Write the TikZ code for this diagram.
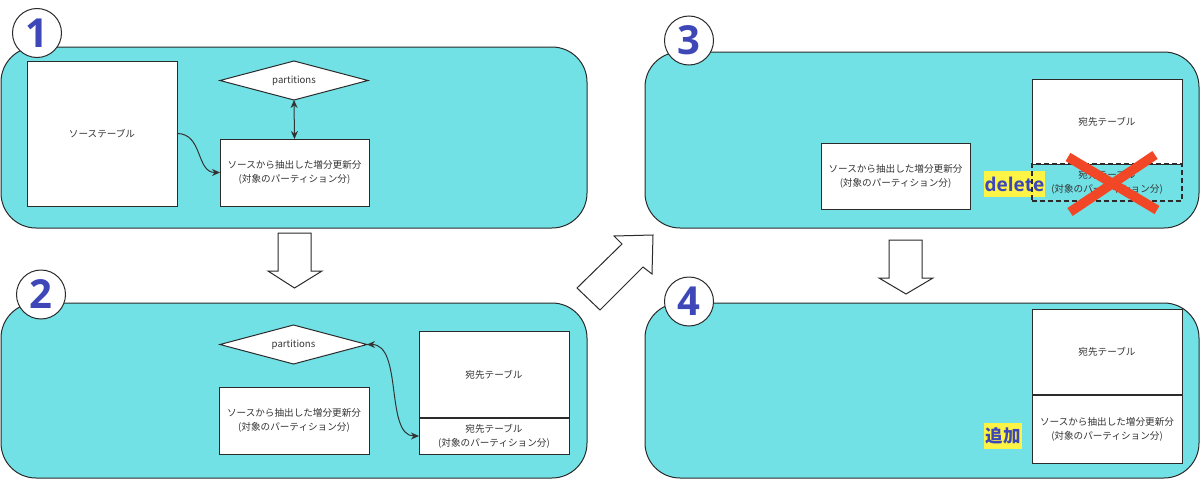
\documentclass[tikz,border=0pt]{standalone}
\usepackage{fontspec}
\setmainfont{Noto Sans CJK JP}
\newfontfamily\numfont{Open Sans}
\usetikzlibrary{shapes.geometric,arrows.meta}
\definecolor{panelc}{HTML}{71E1E5}
\definecolor{edgec}{HTML}{2B2B2B}
\definecolor{txtc}{HTML}{333333}
\definecolor{numc}{HTML}{3D47B8}
\definecolor{hlc}{HTML}{FEF445}
\definecolor{xred}{HTML}{F24726}
\tikzset{
  panel/.style={draw=edgec, line width=1pt, fill=panelc, rounded corners=35pt, inner sep=0pt, outer sep=0pt},
  numcirc/.style={circle, draw=edgec, line width=1pt, fill=white, minimum size=49pt, inner sep=0pt,
    text=numc, font=\numfont\bfseries\fontsize{40}{40}\selectfont},
  box/.style={draw=edgec, line width=1pt, fill=white, inner sep=0pt, outer sep=0pt, align=center,
    text=txtc, font=\fontsize{9.6}{14}\selectfont},
  dashbox/.style={draw=edgec, line width=1.2pt, dash pattern=on 5pt off 3pt, inner sep=0pt, outer sep=0pt, align=center,
    text=txtc, font=\fontsize{9.6}{14}\selectfont},
  decision/.style={diamond, draw=edgec, line width=1pt, fill=white, inner sep=0pt, outer sep=0pt,
    aspect=3.8, text=txtc, font=\fontsize{9.6}{12}\selectfont},
  conn/.style={draw=txtc, line width=1pt},
  tip/.style={-{Stealth[length=8pt,width=7pt]}},
  bothtips/.style={{Stealth[length=8pt,width=7pt]}-{Stealth[length=8pt,width=7pt]}},
  blockarrow/.style={draw=edgec, line width=1pt, fill=white, line join=miter},
  hilite/.style={fill=hlc, inner sep=0pt, text=numc},
  cross/.style={draw=xred, line width=9.5pt},
}
\begin{document}
\begin{tikzpicture}[x=1pt,y=-1pt]
\useasboundingbox[fill=white] (0,0) rectangle (1200,479);

% ---------- panels ----------
\node[panel, minimum width=586pt, minimum height=181pt] (p1) at (294,137.5) {};
\node[panel, minimum width=586pt, minimum height=175pt] (p2) at (294,390.5) {};
\node[panel, minimum width=554pt, minimum height=176pt] (p3) at (922,140) {};
\node[panel, minimum width=554pt, minimum height=175pt] (p4) at (922,390.5) {};

% ---------- step numbers ----------
\node[numcirc] (c1) at (37,33) {1};
\node[numcirc] (c2) at (41,294.5) {2};
\node[numcirc] (c3) at (689,40.5) {3};
\node[numcirc] (c4) at (689,301.5) {4};

% ---------- panel 1 ----------
\node[box, minimum width=150pt, minimum height=145pt] (src) at (102,133.5) {ソーステーブル};
\node[decision, minimum width=148pt, minimum height=39pt] (d1) at (294,80.5) {partitions};
\node[box, minimum width=149pt, minimum height=67pt] (e1) at (294.5,172.5)
  {ソースから抽出した増分更新分\\(対象のパーティション分)};
\draw[conn, tip] (src.east) .. controls +(26,0) and +(-24,0) .. (e1.west);
\draw[conn, bothtips] (d1.south) -- (e1.north);

% ---------- panel 2 ----------
\node[decision, minimum width=147pt, minimum height=39pt] (d2) at (293.5,344.5) {partitions};
\node[box, minimum width=150pt, minimum height=67pt] (e2) at (294,420.5)
  {ソースから抽出した増分更新分\\(対象のパーティション分)};
\node[box, minimum width=150pt, minimum height=87pt] (dest2) at (494,374.5) {宛先テーブル};
\node[box, minimum width=150pt, minimum height=36pt] (part2) at (494,436)
  {宛先テーブル\\(対象のパーティション分)};
\draw[draw=edgec, line width=2pt] (dest2.south west) -- (dest2.south east);
\draw[conn, bothtips] (d2.east) .. controls +(36,0) and +(-34,0) .. (part2.west);

% ---------- panel 3 ----------
\node[box, minimum width=149pt, minimum height=66pt] (e3) at (895.5,176)
  {ソースから抽出した増分更新分\\(対象のパーティション分)};
\node[box, minimum width=150pt, minimum height=85pt] (dest3) at (1107,121.5) {宛先テーブル};
\node[hilite, minimum width=61pt, minimum height=26pt,
  font=\numfont\bfseries\fontsize{19}{19}\selectfont] (del) at (1014.5,184) {delete};
\node[dashbox, minimum width=150pt, minimum height=37pt] (dash3) at (1107,182.5)
  {宛先テーブル\\(対象のパーティション分)};
\draw[cross] (1068,157) -- (1157,210);
\draw[cross] (1155,155) -- (1070,212);

% ---------- panel 4 ----------
\node[box, minimum width=150pt, minimum height=86pt] (dest4) at (1107,352) {宛先テーブル};
\node[box, minimum width=150pt, minimum height=68pt] (e4) at (1107,429)
  {ソースから抽出した増分更新分\\(対象のパーティション分)};
\draw[draw=edgec, line width=2pt] (dest4.south west) -- (dest4.south east);
\node[hilite, minimum width=38pt, minimum height=26pt,
  font=\bfseries\fontsize{17.5}{17.5}\selectfont] (add) at (1003,436) {追加};

% ---------- block arrows ----------
\draw[blockarrow] (278,233) -- (311,233) -- (311,271) -- (322,271) -- (294.5,288)
  -- (268,271) -- (278,271) -- cycle;
\draw[blockarrow] (889,240) -- (922,240) -- (922,278) -- (933,278) -- (906,294)
  -- (879,278) -- (889,278) -- cycle;
\draw[blockarrow] (577,288) -- (622,244) -- (614,236) -- (653,235) -- (652,274)
  -- (643,267) -- (600,310) -- cycle;
\end{tikzpicture}
\end{document}
